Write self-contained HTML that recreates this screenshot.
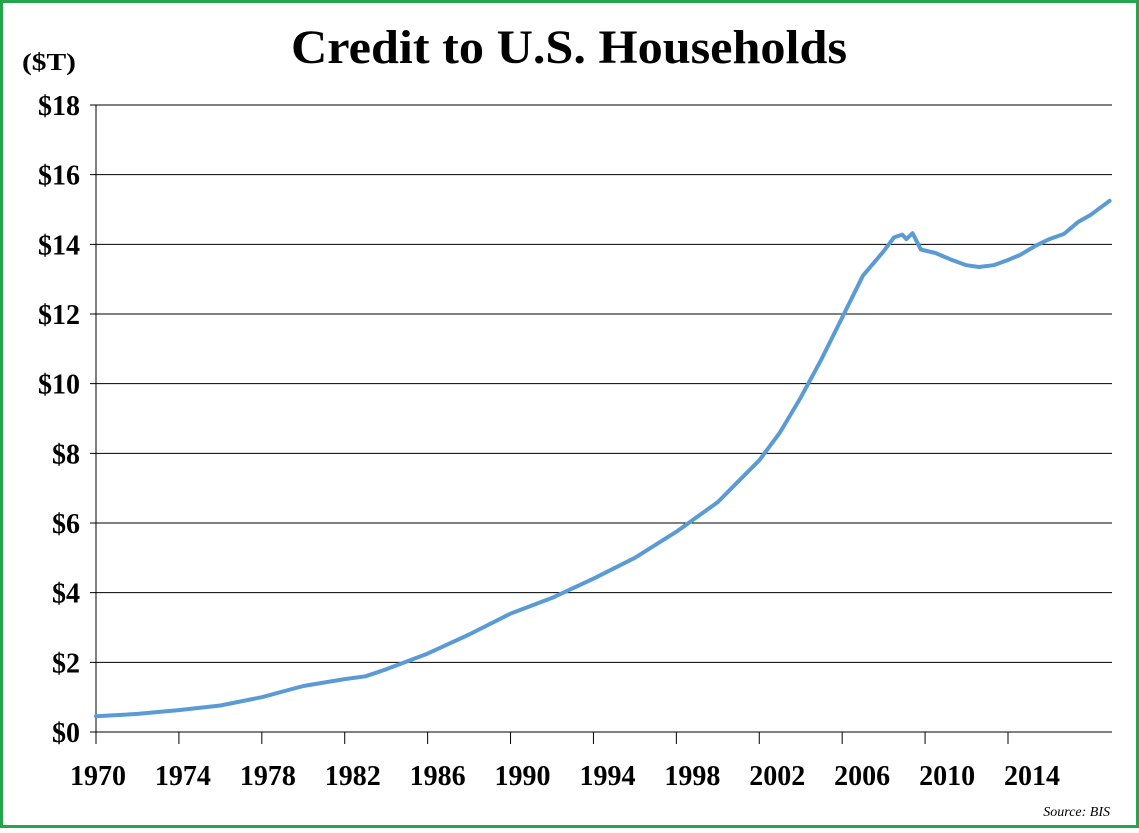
<!DOCTYPE html>
<html><head><meta charset="utf-8"><style>
body{margin:0;background:#fff}
svg text{font-family:"Liberation Serif",serif;font-weight:bold;fill:#000}
</style></head><body>
<svg id="c" width="1139" height="828" viewBox="0 0 1139 828">
<rect x="1.5" y="1.5" width="1136" height="825" fill="#fff" stroke="#22a54b" stroke-width="3"/>
<text x="569" y="63" font-size="48" text-anchor="middle" textLength="556" lengthAdjust="spacingAndGlyphs">Credit to U.S. Households</text>
<text x="22" y="70" font-size="24" textLength="54" lengthAdjust="spacingAndGlyphs">($T)</text>
<text x="1110" y="816" font-size="14" text-anchor="end" style="font-weight:normal;font-style:italic">Source: BIS</text>
<g id="grid"></g><g id="axes"></g><g id="series"></g>
</svg>
<script>
const yTicks=[0,2,4,6,8,10,12,14,16,18];
const xTickYears=[1970,1974,1978,1982,1986,1990,1994,1998,2002,2006,2010,2014];
const years=[1970,1972,1974,1976,1978,1980,1982,1983,1984,1986,1988,1990,1992,1994,1996,1998,2000,2001,2002,2003,2004,2005,2006,2007,2008,2008.5,2008.9,2009.1,2009.4,2009.8,2010.5,2011.3,2012,2012.6,2013.3,2014,2014.6,2015.3,2016,2016.7,2017.4,2018,2018.9];
const credit=[0.45,0.52,0.63,0.76,1.0,1.32,1.52,1.6,1.8,2.25,2.8,3.4,3.85,4.4,5.0,5.75,6.6,7.2,7.8,8.6,9.6,10.7,11.9,13.1,13.8,14.2,14.28,14.15,14.32,13.85,13.75,13.55,13.4,13.35,13.4,13.55,13.7,13.95,14.15,14.3,14.65,14.85,15.25];
const NS="http://www.w3.org/2000/svg";
const X=y=>96+(y-1970)*20.727;
const LX=y=>98+(y-1970)*(934/44);
const Y=v=>732-v*(627/18);
function mk(t,a,p){const e=document.createElementNS(NS,t);for(const k in a)e.setAttribute(k,a[k]);p.appendChild(e);return e;}
const grid=document.getElementById('grid'),axes=document.getElementById('axes'),series=document.getElementById('series');
yTicks.forEach(v=>{
  const l=mk('line',{x1:90,x2:1112,y1:Y(v),y2:Y(v),stroke:'#000','stroke-width':1},grid);
  
  
  const t=mk('text',{x:80,y:Y(v)+10,'font-size':28,'text-anchor':'end'},axes);
  t.textContent='$'+v;
  
  
});
const ax=mk('line',{x1:X(1970),x2:X(1970),y1:105,y2:Y(0),stroke:'#000','stroke-width':1},axes);


xTickYears.forEach(yr=>{
  const tk=mk('line',{x1:X(yr),x2:X(yr),y1:Y(0),y2:Y(0)+12,stroke:'#000','stroke-width':1},axes);
  
  
  const t=mk('text',{x:LX(yr),y:785,'font-size':28,'text-anchor':'middle'},axes);
  t.textContent=yr;
  
  
});
const d=years.map((yr,i)=>(i?'L':'M')+X(yr).toFixed(1)+','+Y(credit[i]).toFixed(1)).join(' ');
const p=mk('path',{d:d,fill:'none',stroke:'#5b9bd5','stroke-width':4,'stroke-linejoin':'round','stroke-linecap':'round'},series);


</script>
</body></html>
